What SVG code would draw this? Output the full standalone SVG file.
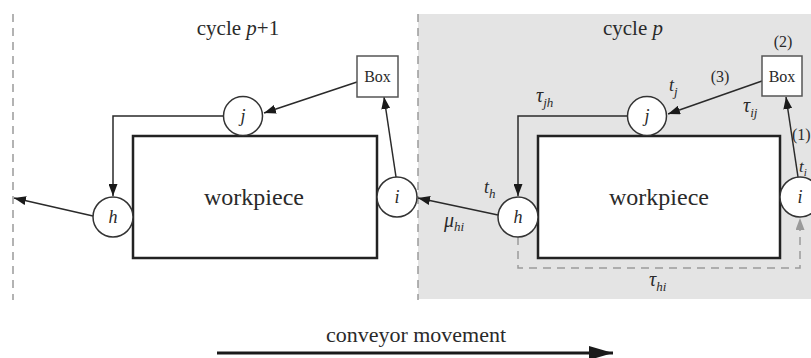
<svg xmlns="http://www.w3.org/2000/svg" width="811" height="358" viewBox="0 0 811 358">
<style>
text{font-family:"Liberation Serif","DejaVu Serif",serif;fill:#2a2a2a}
.it{font-style:italic}
.node{fill:#fff;stroke:#333;stroke-width:1.5}
.box{fill:#fff;stroke:#555;stroke-width:1.5}
.wp{fill:#fff;stroke:#222;stroke-width:2.5}
.c{fill:none;stroke:#2a2a2a;stroke-width:1.5}
.dash{fill:none;stroke:#9a9a9a;stroke-width:1.5;stroke-dasharray:8 6}
</style>
<defs>
<marker id="a" markerUnits="userSpaceOnUse" markerWidth="12" markerHeight="9" refX="12" refY="4.5" orient="auto"><path d="M0,0 L12,4.5 L0,9 z" fill="#1a1a1a"/></marker>
<marker id="ag" markerUnits="userSpaceOnUse" markerWidth="12" markerHeight="9" refX="12" refY="4.5" orient="auto"><path d="M0,0 L12,4.5 L0,9 z" fill="#9a9a9a"/></marker>
<marker id="ab" markerUnits="userSpaceOnUse" markerWidth="24" markerHeight="14" refX="24" refY="7" orient="auto"><path d="M0,0 L24,7 L0,14 z" fill="#1a1a1a"/></marker>
</defs>
<rect id="cycle-p-bg" x="418" y="14" width="393" height="285" fill="#e4e4e4"/>
<g id="boundaries">
<line class="dash" x1="13" y1="14" x2="13" y2="300"/>
<line class="dash" x1="418" y1="14" x2="418" y2="300"/>
</g>
<text x="238" y="35" font-size="21" text-anchor="middle">cycle <tspan class="it">p</tspan>+1</text>
<text x="633" y="35" font-size="21" text-anchor="middle">cycle <tspan class="it">p</tspan></text>
<g id="connectors">
<path class="c" d="M357,82 L264,113" marker-end="url(#a)"/>
<path class="c" d="M223,116 H113 V196" marker-end="url(#a)"/>
<path class="c" d="M396,177 L384,97" marker-end="url(#a)"/>
<path class="c" d="M93,216 L14,198" marker-end="url(#a)"/>
<path class="c" d="M762,81 L668,114" marker-end="url(#a)"/>
<path class="c" d="M627,116 H518 V196" marker-end="url(#a)"/>
<path class="c" d="M798,177 L786,97" marker-end="url(#a)"/>
<path class="c" d="M498,215 L418,198" marker-end="url(#a)"/>
<path class="dash" d="M518,237 V268 H800 V218" marker-end="url(#ag)"/>
<path d="M217,353 H613" stroke="#1a1a1a" stroke-width="3" fill="none" marker-end="url(#ab)"/>
</g>
<g id="workpiece-p1"><rect class="wp" x="133" y="136" width="244" height="122"/><text x="254" y="205" font-size="24" text-anchor="middle">workpiece</text></g>
<g id="workpiece-p"><rect class="wp" x="538" y="136" width="242" height="122"/><text x="659" y="205" font-size="24" text-anchor="middle">workpiece</text></g>
<g id="box-p1"><rect class="box" x="357" y="56" width="41" height="41"/><text x="377.5" y="82" font-size="16" text-anchor="middle">Box</text></g>
<g id="box-p"><rect class="box" x="762" y="56" width="40" height="40"/><text x="782" y="82" font-size="16" text-anchor="middle">Box</text></g>
<g id="j-p1"><circle class="node" cx="243" cy="116" r="19.5"/><text class="it" x="243" y="122" font-size="18" text-anchor="middle">j</text></g>
<g id="h-p1"><circle class="node" cx="113" cy="217" r="20"/><text class="it" x="113" y="223" font-size="18" text-anchor="middle">h</text></g>
<g id="i-p1"><circle class="node" cx="397" cy="197" r="20"/><text class="it" x="397" y="203" font-size="18" text-anchor="middle">i</text></g>
<g id="j-p"><circle class="node" cx="647" cy="116" r="19.5"/><text class="it" x="647" y="122" font-size="18" text-anchor="middle">j</text></g>
<g id="h-p"><circle class="node" cx="518" cy="217" r="20"/><text class="it" x="518" y="223" font-size="18" text-anchor="middle">h</text></g>
<g id="i-p"><circle class="node" cx="800" cy="197" r="20"/><text class="it" x="800" y="203" font-size="18" text-anchor="middle">i</text></g>
<g id="labels">
<text x="783" y="47" font-size="16" text-anchor="middle">(2)</text>
<text x="720" y="82" font-size="16" text-anchor="middle">(3)</text>
<text x="792" y="140" font-size="16">(1)</text>
<text class="it" x="669" y="91" font-size="18">t<tspan font-size="13" dy="5">j</tspan></text>
<text class="it" x="743" y="112" font-size="20">τ<tspan font-size="13" dy="5">ij</tspan></text>
<text class="it" x="536" y="102" font-size="20">τ<tspan font-size="13" dy="5">jh</tspan></text>
<text class="it" x="484" y="193" font-size="18">t<tspan font-size="13" dy="5">h</tspan></text>
<text class="it" x="444" y="227" font-size="20">μ<tspan font-size="13" dy="4">hi</tspan></text>
<text class="it" x="649" y="286" font-size="20">τ<tspan font-size="13" dy="5">hi</tspan></text>
<text class="it" x="799" y="172" font-size="17">t<tspan font-size="11" dy="4">i</tspan></text>
<text x="416" y="342" font-size="22" text-anchor="middle">conveyor movement</text>
</g>
</svg>
